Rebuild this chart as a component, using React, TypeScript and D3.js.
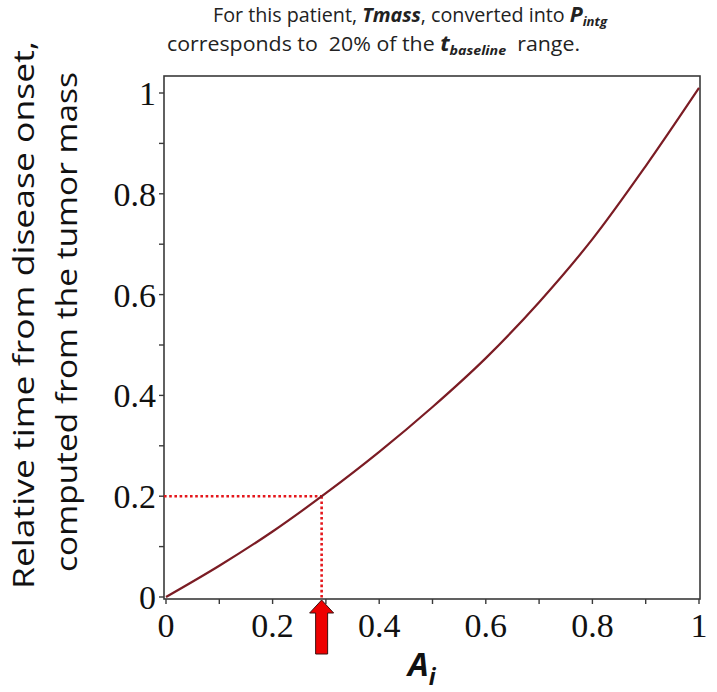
import React from "react";
import * as d3 from "d3";

// curve (A_i -> relative time)
const aValues = [0, 0.1, 0.2, 0.3, 0.4, 0.5, 0.6, 0.7, 0.8, 0.9, 1.0];
const tValues = [0, 0.062, 0.13, 0.206, 0.288, 0.377, 0.474, 0.585, 0.71, 0.855, 1.01];
const majorTicks = [0, 0.2, 0.4, 0.6, 0.8, 1];
const minorTicks = [0.1, 0.3, 0.5, 0.7, 0.9];
const markA = 0.292;
const markT = 0.2;

const W = 717;
const H = 692;
const box = { left: 164, right: 700, top: 76, bottom: 599 };

const App = () => {
  const x = d3.scaleLinear().domain([0, 1]).range([166, 699]);
  const y = d3.scaleLinear().domain([0, 1]).range([597, 93]);

  const pts = aValues.map((a, i) => [a, tValues[i]] as [number, number]);
  const line = d3
    .line<[number, number]>()
    .x((d) => x(d[0]))
    .y((d) => y(d[1]))
    .curve(d3.curveCatmullRom.alpha(0.5));

  const axisCol = "#3a3a3a";
  const tickFont = "'Liberation Serif', 'Times New Roman', serif";
  const sans = "'Open Sans', 'Noto Sans', sans-serif";
  const allTicks = majorTicks.concat(minorTicks);

  // arrow under the marker
  const ax = x(markA);
  const b = box.bottom;
  const arrow = `M${ax},${b + 1} L${ax + 12},${b + 14} L${ax + 6},${b + 14} L${ax + 6},${b + 55} L${ax - 6},${b + 55} L${ax - 6},${b + 14} L${ax - 12},${b + 14} Z`;

  return (
    <svg width={W} height={H} style={{ position: "absolute", left: 0, top: 0, background: "#fff" }}>
      {/* title */}
      <g fontFamily={sans} fontSize={19.5} fill="#222">
        <text x={213} y={22} textLength={394} lengthAdjust="spacingAndGlyphs">
          For this patient,{" "}
          <tspan fontWeight="bold" fontStyle="italic">Tmass</tspan>, converted into{" "}
          <tspan fontWeight="bold" fontStyle="italic" fontSize={21}>P</tspan>
          <tspan fontWeight="bold" fontStyle="italic" fontSize={13} dy={4}>intg</tspan>
        </text>
        <text x={167} y={51} textLength={413} lengthAdjust="spacingAndGlyphs">
          {"corresponds to\u00a0\u00a020% of the "}
          <tspan fontWeight="bold" fontStyle="italic" fontSize={21}>t</tspan>
          <tspan fontWeight="bold" fontStyle="italic" fontSize={13} dy={4}>baseline</tspan>
          <tspan dy={-4}>{"\u00a0\u00a0range."}</tspan>
        </text>
      </g>

      {/* y axis title */}
      <g fontFamily={sans} fontSize={29} fill="#111" textAnchor="middle">
        <text transform={`translate(34,315) rotate(-90)`} textLength={548} lengthAdjust="spacingAndGlyphs">
          Relative time from disease onset,
        </text>
        <text transform={`translate(77,322) rotate(-90)`} textLength={500} lengthAdjust="spacingAndGlyphs">
          computed from the tumor mass
        </text>
      </g>

      {/* frame */}
      <rect
        x={box.left}
        y={box.top}
        width={box.right - box.left}
        height={box.bottom - box.top}
        fill="none"
        stroke={axisCol}
        strokeWidth={1.6}
      />

      {/* ticks */}
      {allTicks.map((t) => (
        <g key={"t" + t} stroke={axisCol} strokeWidth={1.4}>
          <line x1={x(t)} x2={x(t)} y1={box.bottom} y2={box.bottom + 5} />
          <line x1={box.left} x2={box.left - 5} y1={y(t)} y2={y(t)} />
        </g>
      ))}
      <g fontFamily={tickFont} fontSize={34} fill="#111">
        {majorTicks.map((t) => (
          <text key={"xl" + t} x={x(t)} y={637} textAnchor="middle">
            {String(t)}
          </text>
        ))}
        {majorTicks.map((t) => (
          <text key={"yl" + t} x={156} y={y(t) + 12} textAnchor="end">
            {String(t)}
          </text>
        ))}
      </g>

      {/* dotted guides */}
      <g stroke="#e4161b" strokeWidth={2.6} strokeDasharray="2.6,2.6" fill="none">
        <line x1={box.left} x2={x(markA)} y1={y(markT)} y2={y(markT)} />
        <line x1={x(markA)} x2={x(markA)} y1={y(markT)} y2={box.bottom} />
      </g>

      {/* curve */}
      <path d={line(pts) || ""} fill="none" stroke="#7b1c24" strokeWidth={2.2} />

      <path d={arrow} fill="#ee0000" stroke="#3a1010" strokeWidth={1} />

      {/* x axis title */}
      <text x={408} y={676} fontFamily={sans} fontWeight="bold" fontStyle="italic" fontSize={33} fill="#111">
        A
        <tspan fontSize={23} dy={9}>i</tspan>
      </text>
    </svg>
  );
};

export default App;
